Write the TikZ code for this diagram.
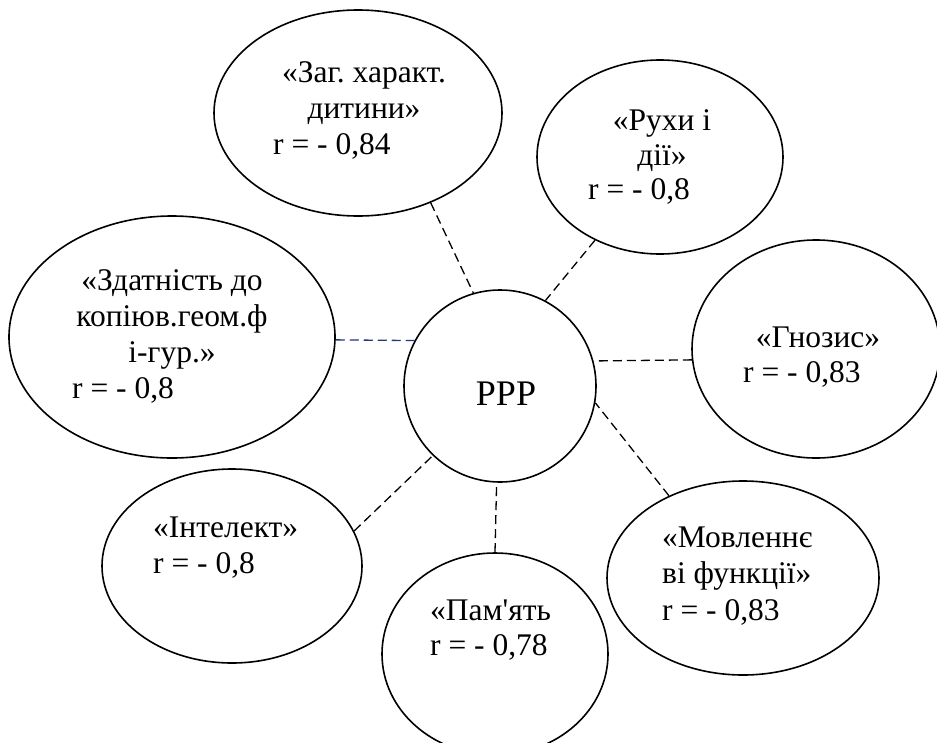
\documentclass[tikz,border=0pt]{standalone}
\usepackage{fontspec}
\setmainfont{Liberation Serif}
\frenchspacing
\usetikzlibrary{shapes.geometric}
\definecolor{linkblue}{RGB}{31,56,120}
\begin{document}
\begin{tikzpicture}[x=1pt, y=-1pt, font=\fontsize{31.5}{36}\selectfont,
        oval/.style={draw, ellipse, inner sep=0pt, line width=1.6pt},
        lbl/.style={inner sep=0pt, anchor=base},
        rval/.style={inner sep=0pt, anchor=base west},
        link/.style={line width=1.3pt, dash pattern=on 9pt off 5pt}]
        \useasboundingbox (0,0) rectangle (937,742);
        \clip (0,0) rectangle (937,742);
        % ovals round the centre
        \node[oval, minimum width=288pt, minimum height=206pt] (zag) at (358,113) {};
        \node[oval, minimum width=246pt, minimum height=194pt] (rukhy) at (660,157) {};
        \node[oval, minimum width=326pt, minimum height=242pt] (zdat) at (172,337) {};
        \node[oval, minimum width=248pt, minimum height=218pt] (gnoz) at (816,349) {};
        \node[oval, minimum width=260pt, minimum height=194pt] (intel) at (232,566) {};
        \node[oval, minimum width=226pt, minimum height=202pt] (pamyat) at (495,654) {};
        \node[oval, minimum width=272pt, minimum height=194pt] (movl) at (743,578) {};
        \node[draw, circle, minimum size=192pt, inner sep=0pt, line width=1.6pt] (ppp) at (500,386) {};
        % texts
        \node[lbl, font=\fontsize{36}{40}\selectfont] (ppptxt) at (506,405) {РРР};
        \node[lbl] (zag1) at (364,82) {«Заг. характ.};
        \node[lbl] (zag2) at (364,118) {дитини»};
        \node[rval] (zagr) at (273,154) {r = - 0,84};
        \node[lbl] (rukhy1) at (662,130) {«Рухи і};
        \node[lbl] (rukhy2) at (662,165) {дії»};
        \node[rval] (rukhyr) at (588,199) {r = - 0,8};
        \node[lbl] (zdat1) at (172,290) {«Здатність до};
        \node[lbl] (zdat2) at (172,326) {копіюв.геом.ф};
        \node[lbl] (zdat3) at (172,362) {і-гур.»};
        \node[rval] (zdatr) at (72,398) {r = - 0,8};
        \node[lbl] (gnoz1) at (818,347) {«Гнозис»};
        \node[rval] (gnozr) at (743,382) {r = - 0,83};
        \node[rval] (intel1) at (153,537) {«Інтелект»};
        \node[rval] (intelr) at (153,573) {r = - 0,8};
        \node[rval] (movl1) at (662,547) {«Мовленнє};
        \node[rval] (movl2) at (662,583) {ві функції»};
        \node[rval] (movlr) at (662,620) {r = - 0,83};
        \node[rval] (pamyat1) at (430,620) {«Пам\textquotesingle ять};
        \node[rval] (pamyatr) at (430,655) {r = - 0,78};
        % links
        \draw[link] (zag.-51.5) -- (ppp.106.3);
        \draw[link] (rukhy.232.6) -- (ppp.62.4);
        \draw[link, linkblue] (zdat.-1.8) -- (ppp.152.6);
        \draw[link] (gnoz.185) -- (ppp.15.3);
        \draw[link] (movl.132.5) -- (ppp.-10.1);
        \draw[link] (pamyat.90) -- (ppp.-92.4);
        \draw[link] (intel.16.6) -- (ppp.226.6);
    \end{tikzpicture}
\end{document}
